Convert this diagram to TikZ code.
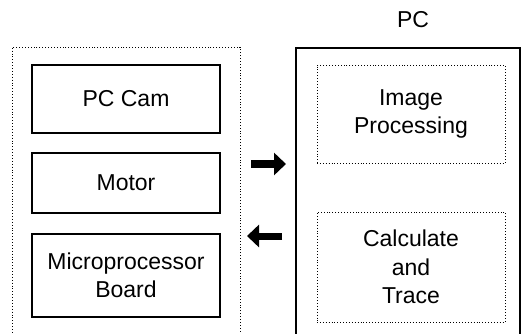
\documentclass[tikz,border=0pt]{standalone}
\usepackage{fontspec}
\setmainfont{Liberation Sans}
\usetikzlibrary{arrows.meta}
\begin{document}
\begin{tikzpicture}[x=1pt,y=-1pt,
  solidbox/.style={draw=black, line width=1.2pt, minimum width=188pt, align=center, inner sep=0pt, font=\fontsize{23}{28.5}\selectfont},
  dotbox/.style={draw=black, line width=0.9pt, dash pattern=on 0.9pt off 2pt, align=center, inner sep=0pt, font=\fontsize{23}{28.5}\selectfont},
  bigarrow/.style={line width=7pt, -{Triangle[length=12pt,width=22pt]}},
  lbl/.style={font=\fontsize{23}{28.5}\selectfont, inner sep=0pt}]
\useasboundingbox (0,0) rectangle (522,334);
% outer groups (open at the bottom, continuing past the edge)
\node[dotbox, minimum width=228pt, minimum height=303pt] (left) at (126,198.5) {};
\node[draw=black, line width=1.2pt, minimum width=224pt, minimum height=302pt, inner sep=0pt] (pc) at (408,199) {};
\node[lbl] (pclabel) at (413,20) {PC};
% left inner boxes
\node[solidbox, minimum height=68pt] (cam) at (126,99) {PC Cam};
\node[solidbox, minimum height=60pt] (motor) at (126,183) {Motor};
\node[solidbox, minimum height=83pt] (micro) at (126,275.5) {Microprocessor\\Board};
% right inner boxes
\node[dotbox, minimum width=188pt, minimum height=98pt] (img) at (411,114) {Image\\Processing};
\node[dotbox, minimum width=188pt, minimum height=110pt] (calc) at (411,267) {Calculate\\and\\Trace};
% arrows
\coordinate (a1s) at (251,164);
\coordinate (a1e) at (286,164);
\coordinate (a2s) at (282,236);
\coordinate (a2e) at (247,236);
\draw[bigarrow] (a1s) -- (a1e);
\draw[bigarrow] (a2s) -- (a2e);
\end{tikzpicture}
\end{document}
